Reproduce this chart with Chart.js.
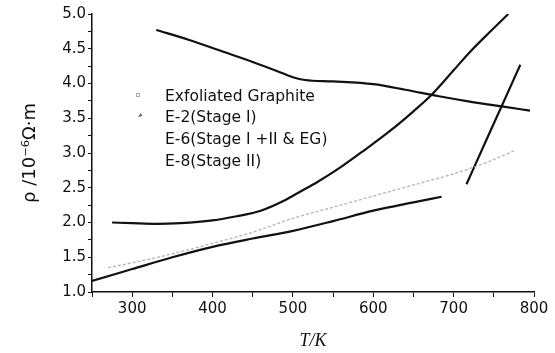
<!DOCTYPE html>
<html>
<head>
<meta charset="utf-8">
<script src="https://cdn.jsdelivr.net/npm/chart.js@4"></script>
<style>
  html, body { margin: 0; padding: 0; background: #fff; }
</style>
</head>
<body>
<canvas id="chart" width="555" height="353"></canvas>
<script>
// Resistivity vs temperature
const seriesLabels = ['Exfoliated Graphite', 'E-2(Stage I)', 'E-6(Stage I +II & EG)', 'E-8(Stage II)'];

const tEG = [270, 300, 350, 400, 450, 500, 550, 600, 650, 700, 740, 775];
const rhoEG = [1.35, 1.42, 1.55, 1.70, 1.86, 2.06, 2.22, 2.38, 2.54, 2.70, 2.86, 3.03];

const tE2 = [330, 370, 410, 450, 480, 500, 515, 550, 600, 640, 680, 720, 760, 795];
const rhoE2 = [4.77, 4.63, 4.47, 4.31, 4.18, 4.09, 4.05, 4.03, 3.99, 3.91, 3.82, 3.74, 3.67, 3.61];

const tE6 = [275, 300, 330, 360, 400, 430, 460, 490, 510, 530, 560, 590, 620, 650, 672, 700, 720, 745, 768];
const rhoE6 = [2.00, 1.99, 1.98, 1.99, 2.03, 2.09, 2.17, 2.32, 2.45, 2.58, 2.80, 3.05, 3.31, 3.60, 3.83, 4.19, 4.45, 4.74, 5.00];

// E-8 has two branches, split by a gap
const tE8 = [250, 300, 350, 400, 450, 500, 550, 600, 650, 685];
const rhoE8 = [1.16, 1.33, 1.50, 1.65, 1.77, 1.88, 2.02, 2.17, 2.29, 2.37];
const tE8High = [716, 740, 760, 783];
const rhoE8High = [2.55, 3.17, 3.68, 4.27];

const xTicks = { min: 250, max: 800, step: 50 };
const yTicks = { min: 1.0, max: 5.0, step: 0.25 };

const toPoints = (ts, vs) => ts.map((t, i) => ({ x: t, y: vs[i] }));

const e8Points = toPoints(tE8, rhoE8).concat([{ x: 700, y: null }], toPoints(tE8High, rhoE8High));

const ink = '#111';

// legend drawn inside the plot, like the original figure
const insetLegend = {
  id: 'insetLegend',
  afterDraw(chart) {
    const ctx = chart.ctx;
    ctx.save();
    ctx.font = '15.5px "DejaVu Sans"';
    ctx.fillStyle = ink;
    ctx.textBaseline = 'alphabetic';
    seriesLabels.forEach((label, i) => {
      ctx.fillText(label, 165, 100.5 + i * 21.8);
    });
    // tiny markers for the first two entries
    ctx.strokeStyle = '#aaa';
    ctx.lineWidth = 1;
    ctx.strokeRect(136.5, 93.5, 3, 3);
    ctx.fillStyle = '#555';
    ctx.beginPath();
    ctx.moveTo(138, 117);
    ctx.lineTo(141, 113);
    ctx.lineTo(142, 116);
    ctx.closePath();
    ctx.fill();
    ctx.restore();
  }
};

new Chart(document.getElementById('chart').getContext('2d'), {
  type: 'line',
  data: {
    datasets: [
      {
        label: seriesLabels[0],
        data: toPoints(tEG, rhoEG),
        borderColor: '#b3b3b3',
        borderWidth: 1.3,
        borderDash: [3, 2],
        pointRadius: 0,
        cubicInterpolationMode: 'monotone'
      },
      {
        label: seriesLabels[1],
        data: toPoints(tE2, rhoE2),
        borderColor: ink,
        borderWidth: 2.2,
        pointRadius: 0,
        cubicInterpolationMode: 'monotone'
      },
      {
        label: seriesLabels[2],
        data: toPoints(tE6, rhoE6),
        borderColor: ink,
        borderWidth: 2.2,
        pointRadius: 0,
        cubicInterpolationMode: 'monotone'
      },
      {
        label: seriesLabels[3],
        data: e8Points,
        borderColor: ink,
        borderWidth: 2.2,
        pointRadius: 0,
        cubicInterpolationMode: 'monotone',
        spanGaps: false
      }
    ]
  },
  options: {
    responsive: false,
    animation: false,
    layout: { padding: { left: 0, right: 21, top: 14, bottom: 0 } },
    plugins: {
      legend: { display: false },
      tooltip: { enabled: false }
    },
    scales: {
      x: {
        type: 'linear',
        min: xTicks.min,
        max: xTicks.max,
        afterFit: s => { s.height = 61; },
        border: { color: ink, width: 1.5 },
        grid: { drawOnChartArea: false, tickLength: 5, color: ink },
        ticks: {
          stepSize: xTicks.step,
          includeBounds: false,
          autoSkip: false,
          maxRotation: 0,
          padding: 3,
          color: ink,
          font: { family: 'DejaVu Sans', size: 15 },
          callback: v => (v % 100 === 0 ? v : '')
        },
        title: {
          display: true,
          text: 'T/K',
          color: ink,
          font: { family: 'Liberation Serif', size: 18, style: 'italic' },
          padding: { top: 0, bottom: 1 }
        }
      },
      y: {
        min: yTicks.min,
        max: yTicks.max,
        afterFit: s => { s.width = 92; },
        border: { color: ink, width: 1.5 },
        grid: { drawOnChartArea: false, tickLength: 4, color: ink },
        ticks: {
          stepSize: yTicks.step,
          autoSkip: false,
          padding: 2,
          color: ink,
          font: { family: 'DejaVu Sans', size: 15 },
          callback: v => (Math.abs(v * 2 - Math.round(v * 2)) < 1e-6 ? v.toFixed(1) : '')
        },
        title: {
          display: true,
          text: 'ρ /10⁻⁶Ω·m',
          color: ink,
          font: { family: 'DejaVu Sans', size: 18 },
          padding: { top: 20, bottom: 0 }
        }
      }
    }
  },
  plugins: [insetLegend]
});
</script>
</body>
</html>
